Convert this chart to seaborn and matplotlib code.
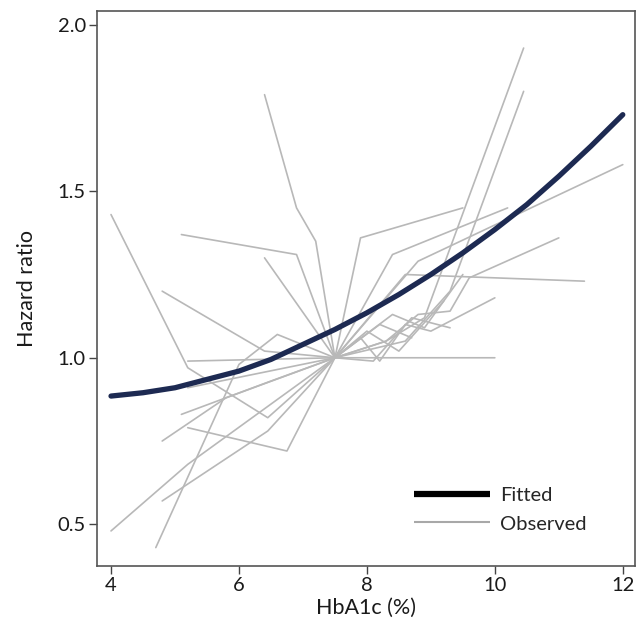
import matplotlib
matplotlib.use("Agg")
import matplotlib.pyplot as plt
from matplotlib.lines import Line2D
import numpy as np
import pandas as pd
import seaborn as sns

# Fitted dose-response curve (hazard ratio by HbA1c)
fit_hba1c = [4.0, 4.5, 5.0, 5.5, 6.0, 6.5, 7.0, 7.5, 8.0, 8.5,
             9.0, 9.5, 10.0, 10.5, 11.0, 11.5, 12.0]
fit_hr = [0.885, 0.895, 0.91, 0.935, 0.96, 0.995, 1.04, 1.085, 1.135, 1.19,
          1.25, 1.315, 1.385, 1.46, 1.545, 1.635, 1.73]

# Observed study-level curves (reference category 7.5%)
study_01_x = [4.0, 5.2, 6.45, 7.5, 7.9, 8.2, 8.6, 9.0, 10.0]
study_01_hr = [1.43, 0.97, 0.82, 1.0, 1.06, 0.99, 1.10, 1.08, 1.18]
study_02_x = [5.2, 7.5, 10.0]
study_02_hr = [0.99, 1.0, 1.0]
study_03_x = [4.8, 6.4, 7.5, 8.3, 8.8, 9.3, 9.6, 11.0]
study_03_hr = [1.20, 1.02, 1.0, 1.05, 1.13, 1.14, 1.24, 1.36]
study_04_x = [5.1, 6.9, 7.5, 7.9, 9.5]
study_04_hr = [1.37, 1.31, 1.0, 1.36, 1.45]
study_05_x = [6.4, 6.9, 7.2, 7.5, 8.4, 10.2]
study_05_hr = [1.79, 1.45, 1.35, 1.0, 1.31, 1.45]
study_06_x = [6.4, 7.5, 8.6, 11.4]
study_06_hr = [1.30, 1.0, 1.25, 1.23]
study_07_x = [4.0, 5.2, 7.5, 8.3, 8.9, 10.45]
study_07_hr = [0.48, 0.68, 1.0, 1.05, 1.12, 1.93]
study_08_x = [4.8, 6.45, 7.5, 8.6, 9.3, 10.45]
study_08_hr = [0.57, 0.78, 1.0, 1.05, 1.20, 1.80]
study_09_x = [5.2, 6.75, 7.5, 8.8, 12.0]
study_09_hr = [0.79, 0.72, 1.0, 1.29, 1.58]
study_10_x = [4.7, 6.0, 6.6, 7.5, 8.1, 8.7, 9.3]
study_10_hr = [0.43, 0.98, 1.07, 1.0, 0.99, 1.12, 1.09]
study_11_x = [4.8, 5.8, 7.5, 8.4, 8.9, 9.5]
study_11_hr = [0.75, 0.88, 1.0, 1.13, 1.09, 1.25]
study_12_x = [5.1, 6.5, 7.5, 8.0, 8.5, 9.2]
study_12_hr = [0.83, 0.93, 1.0, 1.08, 1.02, 1.17]
study_13_x = [5.2, 7.5, 8.2, 8.7]
study_13_hr = [0.91, 1.0, 1.10, 1.06]

studies = {
    "S01": (study_01_x, study_01_hr), "S02": (study_02_x, study_02_hr),
    "S03": (study_03_x, study_03_hr), "S04": (study_04_x, study_04_hr),
    "S05": (study_05_x, study_05_hr), "S06": (study_06_x, study_06_hr),
    "S07": (study_07_x, study_07_hr), "S08": (study_08_x, study_08_hr),
    "S09": (study_09_x, study_09_hr), "S10": (study_10_x, study_10_hr),
    "S11": (study_11_x, study_11_hr), "S12": (study_12_x, study_12_hr),
    "S13": (study_13_x, study_13_hr),
}

rows = []
for name, (xs, ys) in studies.items():
    for order, (xv, yv) in enumerate(zip(xs, ys)):
        rows.append({"study": name, "order": order, "hba1c": xv, "hr": yv})
obs = pd.DataFrame(rows)
fit = pd.DataFrame({"hba1c": fit_hba1c, "hr": fit_hr})

sns.set_theme(style="white")
plt.rcParams["font.family"] = ["Lato", "DejaVu Sans"]

fig = plt.figure(figsize=(6.42, 6.33), dpi=100)
ax = fig.add_axes([0.151, 0.106, 0.838, 0.877])

grey = "#b8b8b8"
navy = "#1d2a52"

sns.lineplot(data=obs, x="hba1c", y="hr", units="study", estimator=None,
             sort=False, color=grey, lw=1.2, ax=ax, legend=False)
sns.lineplot(data=fit, x="hba1c", y="hr", color=navy, lw=3.8,
             solid_capstyle="round", ax=ax, legend=False)

ax.set_xlim(3.78, 12.19)
ax.set_ylim(0.375, 2.042)
ax.set_xticks([4, 6, 8, 10, 12])
ax.set_yticks([0.5, 1.0, 1.5, 2.0])
ax.set_yticklabels(["0.5", "1.0", "1.5", "2.0"])
ax.tick_params(axis="both", which="major", direction="out", length=6,
               width=1, color="#444444", labelsize=14.5, labelcolor="#1a1a1a",
               bottom=True, left=True, pad=2)
for side in ["top", "right", "bottom", "left"]:
    ax.spines[side].set_color("#555555")
    ax.spines[side].set_linewidth(1.2)

ax.set_xlabel("HbA1c (%)", fontsize=15.5, color="#1a1a1a", labelpad=3)
ax.set_ylabel("Hazard ratio", fontsize=15.5, color="#1a1a1a", labelpad=15)

handles = [Line2D([0], [0], color="black", lw=4.5, solid_capstyle="butt"),
           Line2D([0], [0], color="#a8a8a8", lw=1.5, solid_capstyle="butt")]
ax.legend(handles, ["Fitted", "Observed"], loc="lower left",
          bbox_to_anchor=(0.570, 0.042), frameon=False, fontsize=14.5,
          borderpad=0, handlelength=3.8, handletextpad=0.5, labelspacing=0.55)

fig.savefig("out.png", dpi=100)
